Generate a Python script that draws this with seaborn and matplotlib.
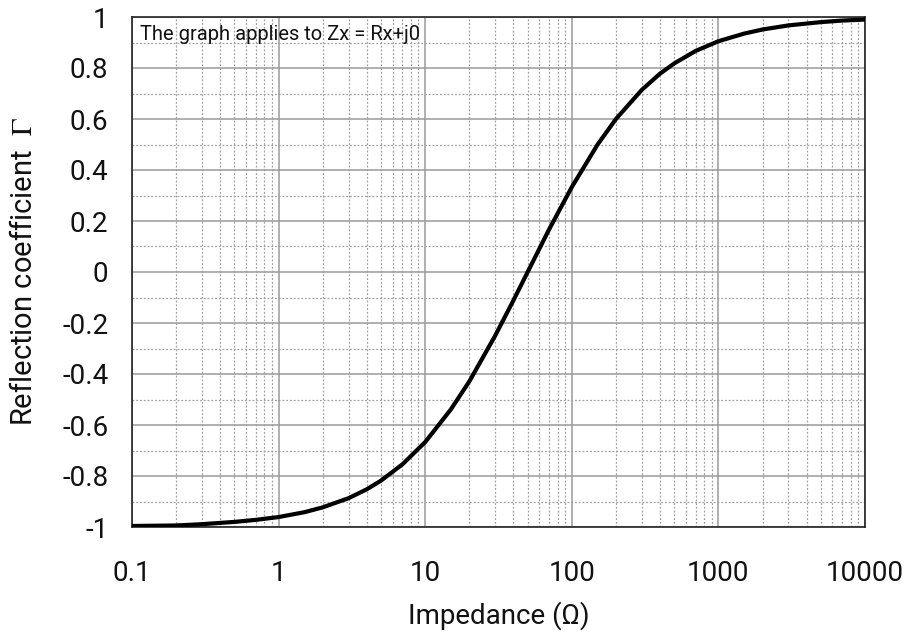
import matplotlib
matplotlib.use("Agg")
import matplotlib.pyplot as plt
import matplotlib.ticker as mticker
import numpy as np
import pandas as pd
import seaborn as sns

# Reflection coefficient of a purely resistive load
impedance = [0.1, 0.2, 0.3, 0.5, 0.7, 1, 1.5, 2, 3, 4, 5, 7, 10, 15, 20, 30, 40,
             50, 70, 100, 150, 200, 300, 400, 500, 700, 1000, 1500, 2000, 3000,
             5000, 7000, 10000]
gamma = [-0.996, -0.994, -0.989, -0.980, -0.972, -0.961, -0.942, -0.923, -0.887,
         -0.852, -0.818, -0.754, -0.667, -0.538, -0.429, -0.250, -0.111,
         0.000, 0.167, 0.333, 0.500, 0.600, 0.714, 0.778, 0.818, 0.867, 0.905,
         0.935, 0.951, 0.967, 0.980, 0.986, 0.990]

x_ticks = [0.1, 1, 10, 100, 1000, 10000]
x_tick_labels = ["0.1", "1", "10", "100", "1000", "10000"]
y_ticks = [-1, -0.8, -0.6, -0.4, -0.2, 0, 0.2, 0.4, 0.6, 0.8, 1]
y_tick_labels = ["-1", "-0.8", "-0.6", "-0.4", "-0.2", "0",
                 "0.2", "0.4", "0.6", "0.8", "1"]

df = pd.DataFrame({"impedance": impedance, "gamma": gamma})

sns.set_theme(style="white")
plt.rcParams["font.family"] = ["Roboto", "DejaVu Sans"]
plt.rcParams["mathtext.fontset"] = "stix"

fig = plt.figure(figsize=(9.08, 6.36), dpi=100)
ax = fig.add_axes([132 / 908, 1 - 527 / 636, (865 - 132) / 908, (527 - 17) / 636])

sns.lineplot(data=df, x="impedance", y="gamma", ax=ax, color="black",
             linewidth=3.0, zorder=5)

ax.set_xscale("log")
ax.set_xlim(0.1, 10000)
ax.set_ylim(-1, 1)

ax.set_xticks(x_ticks)
ax.set_xticklabels(x_tick_labels)
ax.xaxis.set_minor_locator(mticker.LogLocator(base=10, subs=np.arange(2, 10)))
ax.xaxis.set_minor_formatter(mticker.NullFormatter())
ax.set_yticks(y_ticks)
ax.set_yticklabels(y_tick_labels)
ax.yaxis.set_minor_locator(mticker.MultipleLocator(0.1))

ax.grid(True, which="major", color="#9a9a9a", linewidth=1.1, linestyle="-")
ax.grid(True, which="minor", color="#a0a0a0", linewidth=0.9, linestyle=(0, (1.5, 1.5)))
ax.set_axisbelow(True)

ax.tick_params(axis="both", which="both", length=0, labelsize=20, colors="#111111")
ax.tick_params(axis="x", pad=24)
ax.tick_params(axis="y", pad=17)

for s in ax.spines.values():
    s.set_color("#222222")
    s.set_linewidth(1.2)

ax.set_xlabel("Impedance (\u03a9)", fontsize=20, color="#111111")
ax.xaxis.label.set_va("center")
ax.xaxis.set_label_coords(0.5, (527 - 616) / 510)

ax.set_ylabel("Reflection coefficient  $\\mathrm{\\Gamma}$", fontsize=21, color="#111111")
ax.yaxis.label.set_va("center")
ax.yaxis.set_label_coords((24 - 132) / 733, 0.5)

ax.text(0.011, 0.965, "The graph applies to Zx = Rx+j0", transform=ax.transAxes,
        fontsize=14.5, va="center", ha="left", color="#111111", zorder=6)

fig.savefig("out.png", dpi=100, facecolor="white")
